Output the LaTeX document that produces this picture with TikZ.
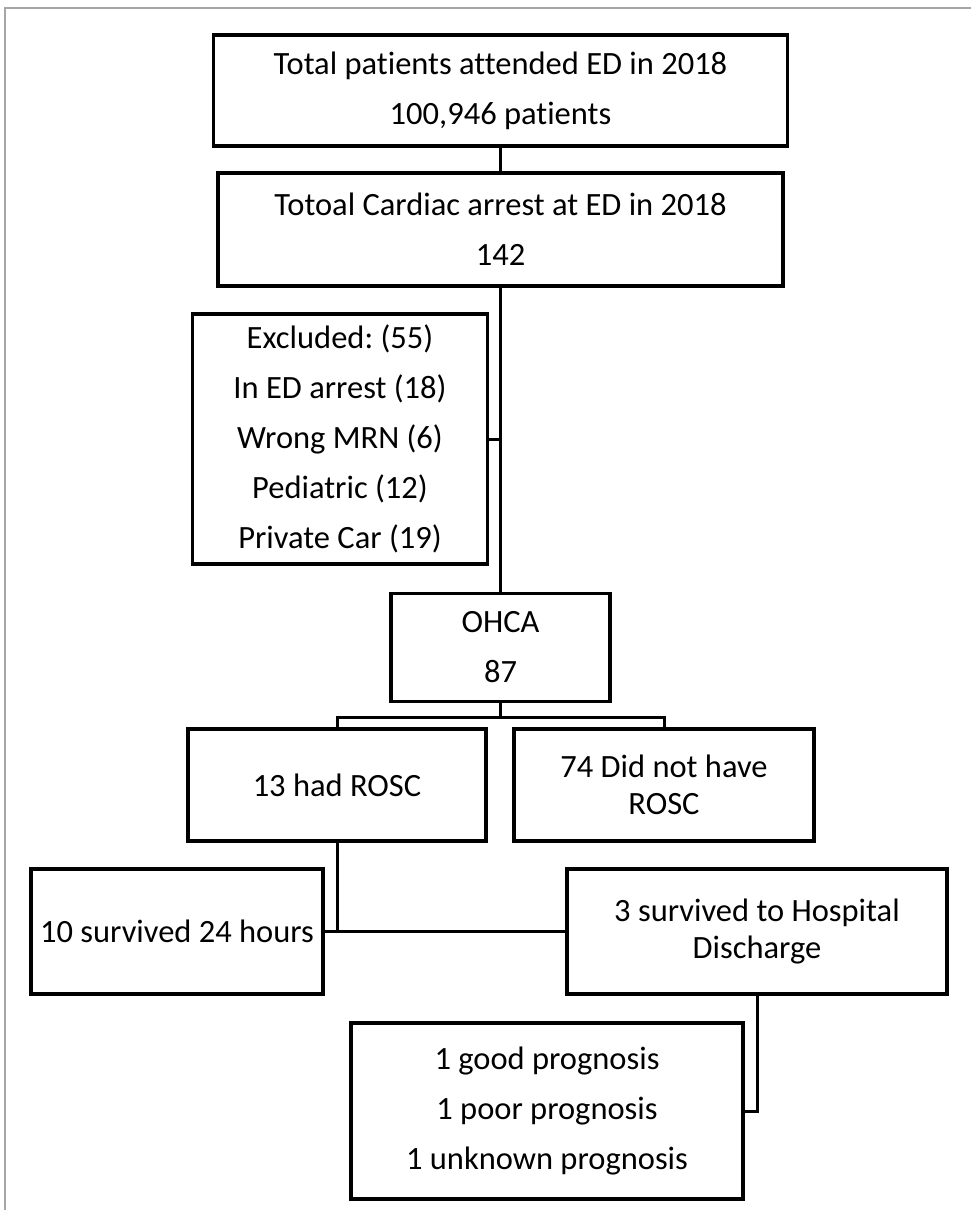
\documentclass[tikz,border=0pt]{standalone}
\usepackage{fontspec}
\setmainfont{Carlito}[Ligatures=NoCommon]
\frenchspacing
\begin{document}
\begin{tikzpicture}[x=1pt,y=-1pt,
  box/.style={draw=black,line width=3.2pt,rectangle,inner sep=0pt,align=center,
    font=\fontsize{32.5}{50}\selectfont},
  tight/.style={font=\fontsize{32.5}{37}\selectfont},
  conn/.style={draw=black,line width=3pt}]
\useasboundingbox (0,0) rectangle (971,1210);
\fill[white] (0,0) rectangle (971,1210);
\draw[gray!70,line width=1.5pt] (5,1210) -- (5,8) -- (971,8);
\node[box,minimum width=574pt,minimum height=111pt] (b1) at (500.5,90.5)
  {Total patients attended ED in 2018\\100,946 patients};
\node[box,minimum width=565pt,minimum height=113pt] (b2) at (500.5,229.5)
  {Totoal Cardiac arrest at ED in 2018\\142};
\node[box,minimum width=295pt,minimum height=250pt] (ex) at (340,439)
  {Excluded: (55)\\In ED arrest (18)\\Wrong MRN (6)\\Pediatric (12)\\Private Car (19)};
\node[box,minimum width=219pt,minimum height=108pt] (oh) at (500.5,647.5)
  {OHCA\\87};
\node[box,minimum width=298pt,minimum height=112pt] (ro) at (337,785)
  {13 had ROSC};
\node[box,tight,minimum width=300pt,minimum height=112pt] (nr) at (664,785)
  {74 Did not have\\ROSC};
\node[box,minimum width=292pt,minimum height=125pt] (s10) at (177,931.5)
  {10 survived 24 hours};
\node[box,tight,minimum width=380pt,minimum height=125pt] (s3) at (757,931.5)
  {3 survived to Hospital\\Discharge};
\node[box,minimum width=392pt,minimum height=176pt] (pr) at (547,1111)
  {1 good prognosis\\1 poor prognosis\\1 unknown prognosis};
\coordinate (j1) at (500.5,717);
\draw[conn] (b1.south) -- (b2.north);
\draw[conn] (b2.south) -- (oh.north);
\draw[conn] (ex.east) -- (ex.east -| oh.north);
\draw[conn] (oh.south) -- (j1);
\draw[conn] (j1) -| (ro.north);
\draw[conn] (j1) -| (nr.north);
\draw[conn] (ro.south) -- (ro.south |- s10.east);
\draw[conn] (s10.east) -- (s10.east -| s3.west);
\draw[conn] (s3.south) |- (pr.east);
\end{tikzpicture}
\end{document}
